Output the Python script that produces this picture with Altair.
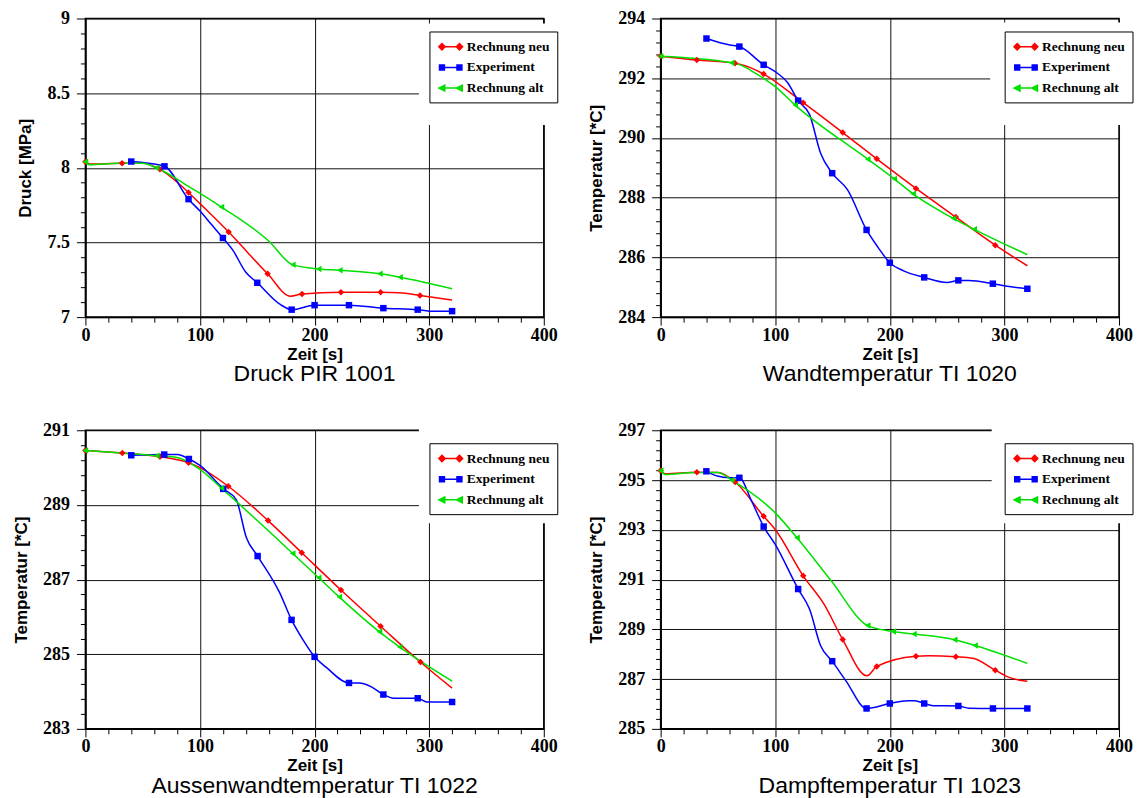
import json
import altair as alt
import pandas as pd

SERIES = ["Rechnung neu", "Experiment", "Rechnung alt"]
COLORS = ["#ff0000", "#0000ff", "#00e000"]
SHAPES = ["diamond", "square", "triangle-left"]
# legend symbols: a short line with a marker at both ends
LEGEND_PATHS = [
    "M-1.25,0H1.25M-1.25,-0.45L-0.8,0L-1.25,0.45L-1.7,0ZM1.25,-0.45L1.7,0L1.25,0.45L0.8,0Z",
    "M-1.25,0H1.25M-1.6,-0.36H-0.9V0.36H-1.6ZM0.9,-0.36H1.6V0.36H0.9Z",
    "M-1.25,0H1.25M-1.7,0L-0.85,-0.42L-0.85,0.42ZM0.8,0L1.65,-0.42L1.65,0.42Z",
]

X_TITLE = "Zeit [s]"
X_TICKS = list(range(0, 401, 20))
X_MAJOR = [0, 100, 200, 300, 400]

# ---------------- Panel 1: Druck PIR 1001 ----------------
P1_TITLE = "Druck PIR 1001"
P1_YTITLE = "Druck [MPa]"
P1_YDOMAIN = [7, 9]
P1_YMAJOR = [7, 7.5, 8, 8.5, 9]
P1_YSTEP = 0.1
P1_NEU_T = [0, 4, 32, 50, 65, 90, 100, 125, 159, 179, 189, 223, 257.6, 274, 292, 320]
P1_NEU_V = [8.04, 8.025, 8.03, 8.03, 7.99, 7.835, 7.76, 7.57, 7.29, 7.14, 7.155, 7.167, 7.167, 7.163, 7.145, 7.114]
P1_NEU_M = [0, 32, 65, 90, 125, 159, 189, 223, 257.6, 292]
P1_EXP_T = [40, 50, 69, 90, 100, 110, 120, 128.5, 140, 150, 170, 180, 200, 230, 260, 290, 300, 320]
P1_EXP_V = [8.042, 8.035, 8.01, 7.79, 7.71, 7.62, 7.53, 7.45, 7.30, 7.23, 7.085, 7.05, 7.08, 7.08, 7.06, 7.05, 7.04, 7.04]
P1_EXP_M = [40, 69, 90, 120, 150, 180, 200, 230, 260, 290, 320]
P1_ALT_T = [0, 4, 30, 50, 62, 90, 118.7, 160, 181, 203.6, 222, 257, 274.6, 320]
P1_ALT_V = [8.04, 8.02, 8.03, 8.03, 8.0, 7.875, 7.737, 7.51, 7.35, 7.323, 7.314, 7.29, 7.267, 7.19]
P1_ALT_M = [0, 62, 118.7, 181, 203.6, 222, 257, 274.6]

# ---------------- Panel 2: Wandtemperatur TI 1020 ----------------
P2_TITLE = "Wandtemperatur TI 1020"
P2_YTITLE = "Temperatur [*C]"
P2_YDOMAIN = [284, 294]
P2_YMAJOR = [284, 286, 288, 290, 292, 294]
P2_YSTEP = 0.4
P2_NEU_T = [0, 31.6, 64.9, 75, 89.9, 124.4, 158.9, 188.6, 222.8, 257.6, 292, 320]
P2_NEU_V = [292.74, 292.61, 292.5, 292.40, 292.14, 291.18, 290.18, 289.30, 288.31, 287.35, 286.41, 285.72]
P2_NEU_M = [0, 31.6, 64.9, 89.9, 124.4, 158.9, 188.6, 222.8, 257.6, 292]
P2_EXP_T = [40, 60.4, 68.7, 89.9, 100, 111, 120, 130, 139.6, 149.7, 163, 179.7, 190, 200, 212, 230, 250, 259.8, 269, 289.9, 301, 320]
P2_EXP_V = [293.33, 293.11, 293.06, 292.45, 292.22, 291.84, 291.25, 290.78, 289.49, 288.82, 288.27, 286.92, 286.32, 285.82, 285.55, 285.33, 285.16, 285.23, 285.23, 285.12, 285.04, 284.95]
P2_EXP_M = [40, 68.7, 89.9, 120, 149.7, 179.7, 200, 230, 259.8, 289.9, 320]
P2_ALT_T = [0, 62, 70, 82.6, 100, 117.4, 180.7, 203.8, 220.3, 255.7, 273.7, 320]
P2_ALT_V = [292.74, 292.52, 292.44, 292.17, 291.72, 291.1, 289.29, 288.63, 288.13, 287.3, 286.94, 286.09]
P2_ALT_M = [0, 62, 117.4, 180.7, 203.8, 220.3, 255.7, 273.7]

# ---------------- Panel 3: Aussenwandtemperatur TI 1022 ----------------
P3_TITLE = "Aussenwandtemperatur TI 1022"
P3_YTITLE = "Temperatur [*C]"
P3_YDOMAIN = [283, 291]
P3_YMAJOR = [283, 285, 287, 289, 291]
P3_YSTEP = 0.4
P3_NEU_T = [0, 32.2, 65, 90, 100, 124.7, 159.4, 188.8, 223, 257.6, 292.3, 320]
P3_NEU_V = [290.46, 290.39, 290.29, 290.13, 290.0, 289.50, 288.58, 287.72, 286.72, 285.75, 284.79, 284.09]
P3_NEU_M = [0, 32.2, 65, 90, 124.7, 159.4, 188.8, 223, 257.6, 292.3]
P3_EXP_T = [40, 68.8, 80.2, 90.3, 100, 120.3, 131.6, 140.5, 150.3, 169.5, 179.9, 190, 200, 210.5, 230, 239, 250, 260, 269, 290, 298, 320]
P3_EXP_V = [290.33, 290.35, 290.35, 290.23, 290.06, 289.43, 289.14, 288.12, 287.63, 286.65, 285.92, 285.38, 284.93, 284.64, 284.23, 284.23, 284.12, 283.92, 283.82, 283.82, 283.72, 283.72]
P3_EXP_M = [40, 68.8, 90.3, 120.3, 150.3, 179.9, 200, 230, 260, 290, 320]
P3_ALT_T = [0, 62.2, 80, 100, 118.7, 180.9, 203.6, 221.6, 256.6, 274.3, 320]
P3_ALT_V = [290.46, 290.32, 290.27, 289.95, 289.45, 287.70, 287.05, 286.53, 285.60, 285.19, 284.28]
P3_ALT_M = [0, 62.2, 118.7, 180.9, 203.6, 221.6, 256.6, 274.3]

# ---------------- Panel 4: Dampftemperatur TI 1023 ----------------
P4_TITLE = "Dampftemperatur TI 1023"
P4_YTITLE = "Temperatur [*C]"
P4_YDOMAIN = [285, 297]
P4_YMAJOR = [285, 287, 289, 291, 293, 295, 297]
P4_YSTEP = 0.4
P4_NEU_T = [0, 4, 31.6, 50, 65, 89.9, 100, 124.4, 142.7, 158.9, 180, 188.6, 222.8, 234, 257.6, 272.5, 292, 304, 320]
P4_NEU_V = [295.38, 295.25, 295.31, 295.3, 294.92, 293.54, 293.01, 291.15, 290.0, 288.59, 287.13, 287.51, 287.92, 287.94, 287.90, 287.84, 287.36, 287.07, 286.91]
P4_NEU_M = [0, 31.6, 65, 89.9, 124.4, 158.9, 188.6, 222.8, 257.6, 292]
P4_EXP_T = [39.9, 49.4, 60.4, 68.7, 79.4, 89.9, 100, 120, 130, 139.6, 149.7, 161.7, 179.7, 200, 215.5, 222, 230, 237.7, 259.8, 269, 290, 320]
P4_EXP_V = [295.35, 295.16, 295.09, 295.09, 294.15, 293.13, 292.41, 290.62, 289.81, 288.34, 287.72, 286.93, 285.82, 286.02, 286.13, 286.13, 286.02, 285.93, 285.92, 285.83, 285.82, 285.82]
P4_EXP_M = [39.9, 68.7, 89.9, 120, 149.7, 179.7, 200, 230, 259.8, 290, 320]
P4_ALT_T = [0, 4, 30, 50, 62, 100, 119, 149, 180.7, 203, 221, 256.6, 274.4, 320]
P4_ALT_V = [295.38, 295.22, 295.3, 295.3, 295.0, 293.68, 292.68, 290.94, 289.15, 288.91, 288.81, 288.58, 288.35, 287.63]
P4_ALT_M = [0, 62, 119, 180.7, 203, 221, 256.6, 274.4]

PLOT_W = 459
PLOT_H = 299
SERIF = "Liberation Serif"
SANS = "Liberation Sans"


def frame(series_lists):
    rows = []
    for name, (ts, vs, ms) in zip(SERIES, series_lists):
        mk = set(ms)
        for t, v in zip(ts, vs):
            rows.append({"t": t, "v": v, "series": name, "m": t in mk})
    return pd.DataFrame(rows)


def axis(values, major, title, label_pad, title_pad, major_tick):
    test = f"indexof({json.dumps(major)}, datum.value) >= 0"
    return alt.Axis(
        values=values, tickCount=1000, title=title,
        labelExpr=f"{test} ? '' + datum.value : ''",
        tickSize={"condition": {"test": test, "value": major_tick}, "value": 5},
        gridOpacity={"condition": {"test": test, "value": 1}, "value": 0},
        grid=True, gridColor="#111111", gridWidth=1,
        tickColor="black", tickWidth=1, domainColor="black", domainWidth=1.5,
        labelFont=SERIF, labelFontWeight="bold", labelFontSize=18, labelColor="black",
        labelPadding=label_pad, labelFlush=False, labelOverlap=False, labelBound=False,
        titleFont=SANS, titleFontSize=17, titleFontWeight="bold", titleColor="black",
        titlePadding=title_pad,
    )


def panel(title, ytitle, ydomain, ymajor, ystep, series_lists, mask):
    df = frame(series_lists)
    n = int(round((ydomain[1] - ydomain[0]) / ystep))
    yticks = [round(ydomain[0] + i * ystep, 3) for i in range(n + 1)]

    x_enc = alt.X("t:Q", scale=alt.Scale(domain=[0, 400], nice=False, zero=False),
                  axis=axis(X_TICKS, X_MAJOR, X_TITLE, 1, 2, 8))
    y_enc = alt.Y("v:Q", scale=alt.Scale(domain=ydomain, nice=False, zero=False),
                  axis=axis(yticks, ymajor, ytitle, 7, 12, 9))
    cscale = alt.Scale(domain=SERIES, range=COLORS)

    mask_layer = alt.Chart(alt.Data(values=[{"k": 1}])).mark_rect(color="white").encode(
        x=alt.value(mask[0]), x2=alt.value(mask[1]),
        y=alt.value(mask[2]), y2=alt.value(mask[3]),
    )
    base = alt.Chart(df)
    line_layers = [
        base.transform_filter(f"datum.series === '{s}'").mark_line(
            interpolate="monotone", strokeWidth=1.5, color=c
        ).encode(x=x_enc, y=y_enc)
        for s, c in zip(SERIES, COLORS)
    ]
    point_layers = [
        base.transform_filter(f"datum.m && datum.series === '{s}'").mark_point(
            filled=True, size=42, opacity=1, shape=shp, color=c
        ).encode(x=x_enc, y=y_enc)
        for s, c, shp in zip(SERIES, COLORS, SHAPES)
    ]
    leg = alt.Legend(
        orient="none", legendX=344.5, legendY=13, title=None,
        fillColor="white", strokeColor="black", padding=7.3, rowPadding=5.7,
        labelOffset=8, symbolOffset=6,
        labelFont=SERIF, labelFontSize=13.5, labelFontWeight="bold",
        labelColor="black", symbolSize=196, symbolStrokeWidth=1.5, symbolOpacity=1,
        labelLimit=0,
    )
    dummy = base.transform_filter("false").mark_point(
        filled=True, opacity=1, strokeWidth=1.5
    ).encode(
        x=x_enc, y=y_enc,
        fill=alt.Fill("series:N", scale=cscale, legend=leg),
        stroke=alt.Stroke("series:N", scale=cscale, legend=leg),
        shape=alt.Shape("series:N", scale=alt.Scale(domain=SERIES, range=LEGEND_PATHS), legend=leg),
    )
    return alt.layer(mask_layer, *line_layers, *point_layers, dummy).properties(
        width=PLOT_W, height=PLOT_H,
        title=alt.TitleParams(
            text=title, orient="bottom", font=SANS, fontSize=23,
            fontWeight="normal", color="black", offset=1,
        ),
    )


p1 = panel(P1_TITLE, P1_YTITLE, P1_YDOMAIN, P1_YMAJOR, P1_YSTEP,
           [(P1_NEU_T, P1_NEU_V, P1_NEU_M), (P1_EXP_T, P1_EXP_V, P1_EXP_M), (P1_ALT_T, P1_ALT_V, P1_ALT_M)],
           [334, 468, 5, 106.6])
p2 = panel(P2_TITLE, P2_YTITLE, P2_YDOMAIN, P2_YMAJOR, P2_YSTEP,
           [(P2_NEU_T, P2_NEU_V, P2_NEU_M), (P2_EXP_T, P2_EXP_V, P2_EXP_M), (P2_ALT_T, P2_ALT_V, P2_ALT_M)],
           [330, 468, 4, 106.6])
p3 = panel(P3_TITLE, P3_YTITLE, P3_YDOMAIN, P3_YMAJOR, P3_YSTEP,
           [(P3_NEU_T, P3_NEU_V, P3_NEU_M), (P3_EXP_T, P3_EXP_V, P3_EXP_M), (P3_ALT_T, P3_ALT_V, P3_ALT_M)],
           [334, 468, -3, 93])
p4 = panel(P4_TITLE, P4_YTITLE, P4_YDOMAIN, P4_YMAJOR, P4_YSTEP,
           [(P4_NEU_T, P4_NEU_V, P4_NEU_M), (P4_EXP_T, P4_EXP_V, P4_EXP_M), (P4_ALT_T, P4_ALT_V, P4_ALT_M)],
           [331.5, 468, -3, 93])

chart = alt.concat(
    p1, p2, p3, p4, columns=2,
    spacing={"row": 113.3, "column": 117}, bounds="flush",
).resolve_scale(
    fill="independent", stroke="independent", shape="independent"
).resolve_legend(
    fill="independent", stroke="independent", shape="independent"
).configure_view(
    stroke="black", strokeWidth=1.5
).properties(
    padding={"left": 3.5, "top": 0, "right": 0, "bottom": -2},
    background="white",
)

chart.save("out.html", embed_options={"renderer": "svg", "actions": False})
